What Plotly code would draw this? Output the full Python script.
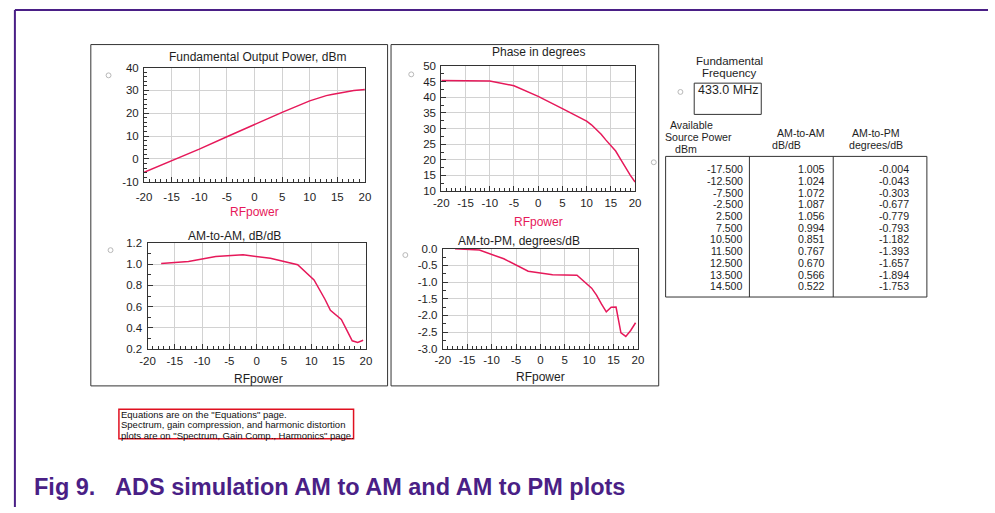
import plotly.graph_objects as go

# ---------------- data ----------------
rf_power = [-20, -15, -10, -5, 0, 5, 10, 11, 12, 13, 14, 15, 16, 17, 18, 19, 20]
fund_out_dbm = [-5.8, -0.8, 4.3, 9.7, 15.1, 20.4, 25.4, 26.2, 27.0, 27.7, 28.2, 28.7, 29.2, 29.6, 29.9, 30.2, 30.4]
phase_deg = [45.4, 45.4, 45.2, 43.7, 40.3, 36.4, 32.4, 31.2, 29.8, 28.2, 26.3, 24.5, 22.8, 20.2, 17.6, 15.1, 12.9]

src_power = [-17.5, -12.5, -7.5, -2.5, 2.5, 7.5, 10.5, 11.5, 12.5, 13.5, 14.5, 15.5, 16.5, 17.5, 18.5, 19.5]
am_to_am = [1.005, 1.024, 1.072, 1.087, 1.056, 0.994, 0.851, 0.767, 0.670, 0.566, 0.522, 0.48, 0.38, 0.28, 0.265, 0.285]
am_to_pm = [-0.004, -0.043, -0.303, -0.677, -0.779, -0.793, -1.182, -1.393, -1.657, -1.894, -1.753, -1.75, -2.52, -2.63, -2.45, -2.22]
table_rows = 11  # rows shown in the listing

x_ticks = [-20, -15, -10, -5, 0, 5, 10, 15, 20]
x_ticktext = ["-20", "-15", "-10", "-5", "0", "5", "10", "15", "20"]
pout_ticks = [-10, 0, 10, 20, 30, 40]
pout_ticktext = ["-10", "0", "10", "20", "30", "40"]
phase_ticks = [10, 15, 20, 25, 30, 35, 40, 45, 50]
phase_ticktext = ["10", "15", "20", "25", "30", "35", "40", "45", "50"]
amam_ticks = [0.2, 0.4, 0.6, 0.8, 1.0, 1.2]
amam_ticktext = ["0.2", "0.4", "0.6", "0.8", "1.0", "1.2"]
ampm_ticks = [-3.0, -2.5, -2.0, -1.5, -1.0, -0.5, 0.0]
ampm_ticktext = ["-3.0", "-2.5", "-2.0", "-1.5", "-1.0", "-0.5", "0.0"]

fund_freq = "433.0 MHz"
caption_num = "Fig 9."
caption_txt = "ADS simulation AM to AM and AM to PM plots"
note_lines = ['Equations are on the "Equations" page.',
              'Spectrum, gain compression, and harmonic distortion',
              'plots are on "Spectrum, Gain Comp., Harmonics" page.']

# ---------------- styling ----------------
W, H = 995, 513
FONT = "Liberation Sans, Arial, sans-serif"
LINE = "#e6195a"
PURPLE = "#4a1f86"
TXT = "#1e1e1e"


def px(x):
    return x / W


def py(y):
    return 1 - y / H


fig = go.Figure()

panels = [
    # x id, y id, x px span, y px span, x data, y data, y range, y ticks, y tick text, y minor, x label standoff
    ("x", "y", (138, 362), (63, 180), rf_power, fund_out_dbm, [-10, 40], pout_ticks, pout_ticktext, 2, 4),
    ("x2", "y2", (439.5, 636), (61.5, 189.5), rf_power, phase_deg, [10, 50], phase_ticks, phase_ticktext, 2.5, 1),
    ("x3", "y3", (141.5, 363), (242.5, 351.5), src_power, am_to_am, [0.2, 1.2], amam_ticks, amam_ticktext, 0.1, 1),
    ("x4", "y4", (441, 639), (248.5, 351), src_power, am_to_pm, [-3, 0], ampm_ticks, ampm_ticktext, 0.25, 0),
]

layout_axes = {}
for (xa, ya, xs, ys, xd, yd, yr, yt, ytt, ymin, xso) in panels:
    fig.add_trace(go.Scatter(x=xd, y=yd, mode="lines", line=dict(color=LINE, width=1.5),
                             xaxis=xa, yaxis=ya, showlegend=False, hoverinfo="skip"))
    xkey = "xaxis" if xa == "x" else "xaxis" + xa[1:]
    ykey = "yaxis" if ya == "y" else "yaxis" + ya[1:]
    common = dict(showline=True, linecolor="#333333", linewidth=1, mirror=True,
                  showgrid=True, gridcolor="#d2d2d2", gridwidth=1, zeroline=False,
                  ticks="inside", ticklen=5, tickcolor="#333333",
                  tickfont=dict(family=FONT, size=11.5, color=TXT), fixedrange=True)
    layout_axes[xkey] = dict(domain=[px(xs[0]), px(xs[1])], range=[-20, 20], anchor=ya,
                             tickvals=x_ticks, ticktext=x_ticktext, ticklabelstandoff=xso,
                             minor=dict(dtick=1, ticks="inside", ticklen=3, tickcolor="#333333", showgrid=False),
                             **common)
    layout_axes[ykey] = dict(domain=[py(ys[1]), py(ys[0])], range=yr, anchor=xa,
                             tickvals=yt, ticktext=ytt, ticklabelstandoff=2,
                             minor=dict(dtick=ymin, ticks="inside", ticklen=3, tickcolor="#333333", showgrid=False),
                             **common)

fig.update_layout(**layout_axes)

ann = []


def text(x, y, s, size=12, color=TXT, xanchor="center", bold=False):
    ann.append(dict(x=px(x), y=py(y), xref="paper", yref="paper", text=("<b>%s</b>" % s) if bold else s,
                    showarrow=False, xanchor=xanchor, yanchor="middle", borderpad=0,
                    font=dict(family=FONT, size=size, color=color)))


# panel titles and axis labels
text(253, 52, "Fundamental Output Power, dBm")
text(250, 211, "RFpower", color=LINE)
text(538, 47, "Phase in degrees")
text(538, 221, "RFpower", color=LINE)
text(230, 236, "AM-to-AM, dB/dB")
text(254, 382, "RFpower")
text(518, 241, "AM-to-PM, degrees/dB")
text(540, 380, "RFpower")

# fundamental frequency box
text(732, 56, "Fundamental", size=11.5)
text(732, 69, "Frequency", size=11.5)
text(730, 86, fund_freq, size=12.5)

# table headers
HS = 10.6
text(670, 122, "Available", size=HS, xanchor="left")
text(665, 134, "Source Power", size=HS, xanchor="left")
text(675, 146, "dBm", size=HS, xanchor="left")
text(804, 130.5, "AM-to-AM", size=HS)
text(790, 142.5, "dB/dB", size=HS)
text(880, 130.5, "AM-to-PM", size=HS)
text(880, 142.5, "degrees/dB", size=HS)

for r in range(table_rows):
    yy = 167 + r * 12.0
    text(746, yy, "%.3f" % src_power[r], size=HS, xanchor="right")
    text(830, yy, "%.3f" % am_to_am[r], size=HS, xanchor="right")
    text(915, yy, "%.3f" % am_to_pm[r], size=HS, xanchor="right")

# note box text
for k, s in enumerate(note_lines):
    text(114, 418 + k * 10.8, s, size=9.5, xanchor="left", color="#111111")

# caption
text(25, 493, caption_num, size=23.5, color=PURPLE, xanchor="left", bold=True)
text(108, 493, caption_txt, size=23.5, color=PURPLE, xanchor="left", bold=True)

shapes = []


def rect(x0, y0, x1, y1, color="#333333", width=1):
    shapes.append(dict(type="rect", xref="paper", yref="paper", x0=px(x0), x1=px(x1), y0=py(y1), y1=py(y0),
                       line=dict(color=color, width=width), layer="below"))


def line(x0, y0, x1, y1, color="#333333", width=1):
    shapes.append(dict(type="line", xref="paper", yref="paper", x0=px(x0), x1=px(x1), y0=py(y0), y1=py(y1),
                       line=dict(color=color, width=width)))


def circ(x, y, r=2.5):
    shapes.append(dict(type="circle", xref="paper", yref="paper", x0=px(x - r), x1=px(x + r),
                       y0=py(y + r), y1=py(y - r), line=dict(color="#b8b8b8", width=1)))


# panel frames
rect(84, 39.5, 385, 389)
rect(388.5, 39.5, 660, 389)
# frequency box
rect(696, 79, 764, 111)
# table
rect(667, 154, 932, 298)
line(752, 154, 752, 298)
line(837, 154, 837, 298)
# note box
rect(112.5, 413, 350.5, 443, color="#e01020", width=1.5)
# small marker icons
for (cx, cy) in [(102, 71), (409, 70), (104, 250), (403, 255), (655, 160), (682, 88)]:
    circ(cx, cy)
# page frame
line(7, 4, 994, 4, color=PURPLE, width=2)
line(7, 4, 7, 513, color=PURPLE, width=2)

fig.update_layout(width=W, height=H, margin=dict(l=0, r=0, t=0, b=0),
                  paper_bgcolor="white", plot_bgcolor="white",
                  annotations=ann, shapes=shapes, showlegend=False)

fig.write_html("out.html", config={"displayModeBar": False},
               post_script="document.body.style.margin='0';document.body.style.padding='0';"
                           "document.body.style.overflow='hidden';")
